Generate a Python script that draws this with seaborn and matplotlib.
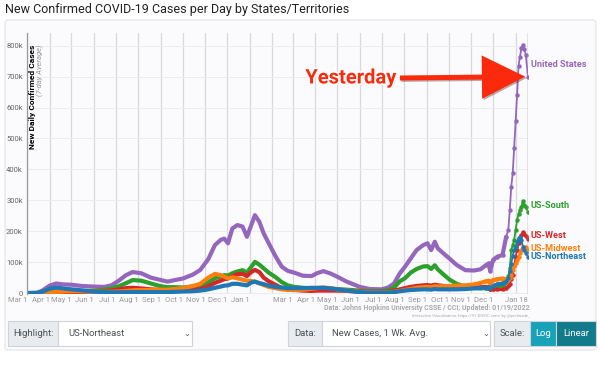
import pandas as pd
import matplotlib.pyplot as plt
import matplotlib.patheffects as pe
from matplotlib.patches import FancyBboxPatch, Rectangle
from matplotlib.ticker import FuncFormatter
import seaborn as sns

# Daten (7-Tage-Mittel, in Tausend Fällen pro Tag)
dates = ['2020-03-01', '2020-03-15', '2020-03-22', '2020-04-01', '2020-04-10', '2020-04-20',
         '2020-05-01', '2020-05-15', '2020-06-01', '2020-06-15', '2020-06-25', '2020-07-05',
         '2020-07-15', '2020-07-24', '2020-08-05', '2020-08-18', '2020-09-01', '2020-09-10',
         '2020-09-20', '2020-10-01', '2020-10-15', '2020-10-25', '2020-11-05', '2020-11-14',
         '2020-11-22', '2020-11-27', '2020-12-02', '2020-12-08', '2020-12-15', '2020-12-22',
         '2020-12-28', '2021-01-03', '2021-01-08', '2021-01-14', '2021-01-20', '2021-01-27',
         '2021-02-05', '2021-02-14', '2021-02-22', '2021-03-03', '2021-03-15', '2021-03-27',
         '2021-04-03', '2021-04-12', '2021-04-22', '2021-05-01', '2021-05-14', '2021-06-01',
         '2021-06-15', '2021-07-01', '2021-07-10', '2021-07-18', '2021-07-26', '2021-08-02',
         '2021-08-10', '2021-08-18', '2021-08-27', '2021-09-02', '2021-09-07', '2021-09-12',
         '2021-09-16', '2021-09-24', '2021-10-02', '2021-10-12', '2021-10-24', '2021-11-05',
         '2021-11-14', '2021-11-21', '2021-11-25', '2021-11-27', '2021-12-01', '2021-12-07',
         '2021-12-14', '2021-12-19', '2021-12-22', '2021-12-24', '2021-12-26', '2021-12-28',
         '2021-12-30', '2022-01-01', '2022-01-03', '2022-01-05', '2022-01-07', '2022-01-09',
         '2022-01-11', '2022-01-13', '2022-01-15', '2022-01-18']

us = [0, 1, 8, 24, 31, 28, 27, 23, 21, 20, 25, 40, 58, 68, 64, 50, 42, 37, 42, 47, 60, 75,
      110, 155, 172, 176, 161, 209, 220, 215, 182, 220, 252, 231, 193, 161, 120, 85, 72, 66,
      56, 55, 64, 71, 63, 53, 37, 20, 13, 12, 18, 31, 64, 85, 112, 139, 155, 161, 139, 166,
      145, 128, 112, 91, 74, 73, 77, 90, 96, 72, 107, 118, 123, 182, 204, 269, 344, 387, 470,
      555, 640, 735, 765, 792, 803, 790, 770, 700]
south = [0, 0, 1.5, 4, 5, 5, 5, 6, 8, 11, 15, 22, 32, 42, 40, 31, 22, 19, 19, 18, 21, 24,
         35, 48, 54, 58, 57, 64, 70, 74, 66, 85, 101, 92, 80, 66, 52, 35, 25, 20, 17, 15, 15,
         15, 14, 13, 11, 8, 6, 6, 10, 18, 38, 48, 66, 78, 86, 87, 78, 90, 77, 60, 44, 30, 21,
         17, 15, 16, 16, 12, 17, 18, 20, 35, 55, 80, 139, 155, 172, 204, 236, 255, 269, 279,
         299, 285, 279, 262]
west = [0, 0, 1.5, 3, 3.5, 3.5, 3.5, 4, 5, 6, 8, 12, 16, 17, 15, 12, 10, 8, 8, 9, 11, 13,
        22, 33, 40, 45, 47, 55, 61, 62, 55, 68, 75, 68, 50, 38, 27, 16, 12, 10, 8, 7, 8, 8,
        8, 8, 7, 5, 4, 4, 5, 8, 12, 16, 20, 23, 25, 26, 24, 27, 25, 23, 21, 19, 18, 18, 19,
        20, 19, 12, 12, 13, 13, 16, 22, 30, 45, 60, 90, 118, 140, 161, 175, 188, 198, 190,
        185, 176]
midwest = [0, 0, 1, 3, 4, 5, 6, 6, 5, 4, 4, 5, 7, 9, 10, 10, 11, 11, 13, 16, 23, 30, 50,
           62, 58, 53, 48, 51, 48, 43, 40, 39, 37, 32, 26, 20, 16, 12, 10, 10, 11, 14, 16,
           18, 16, 12, 8, 4, 3, 2, 3, 4, 7, 10, 13, 17, 19, 20, 19, 22, 21, 22, 23, 24, 25,
           28, 33, 38, 40, 32, 42, 45, 47, 45, 42, 48, 60, 75, 88, 96, 108, 118, 128, 139,
           145, 150, 148, 140]
northeast = [0, 0.5, 4, 14, 18, 15, 12, 9, 5, 3, 2.5, 2.5, 3, 3, 3, 3, 3, 3, 4, 5, 6, 8,
             12, 17, 21, 24, 25, 30, 30, 27, 25, 34, 37, 32, 29, 24, 20, 18, 16, 16, 16, 17,
             17, 17, 15, 12, 8, 3, 1.5, 1.5, 2, 3, 6, 8, 10, 11, 12, 12, 11, 13, 12, 12, 12,
             12, 13, 15, 16, 18, 19, 16, 23, 28, 31, 40, 50, 70, 95, 120, 140, 150, 165, 177,
             182, 172, 150, 140, 130, 118]

regionen = ['United States', 'US-South', 'US-West', 'US-Midwest', 'US-Northeast']
farben = ['#9467bd', '#2ca02c', '#d62728', '#ff7f0e', '#1f77b4']
label_y = [738, 282, 185, 143, 117]

tick_dates = ['2020-03-01', '2020-04-01', '2020-05-01', '2020-06-01', '2020-07-01', '2020-08-01',
              '2020-09-01', '2020-10-01', '2020-11-01', '2020-12-01', '2021-01-01', '2021-02-01',
              '2021-03-01', '2021-04-01', '2021-05-01', '2021-06-01', '2021-07-01', '2021-08-01',
              '2021-09-01', '2021-10-01', '2021-11-01', '2021-12-01', '2022-01-01', '2022-01-18']
tick_labels = ['Mar 1', 'Apr 1', 'May 1', 'Jun 1', 'Jul 1', 'Aug 1', 'Sep 1', 'Oct 1', 'Nov 1',
               'Dec 1', 'Jan 1', '', 'Mar 1', 'Apr 1', 'May 1', 'Jun 1', 'Jul 1', 'Aug 1',
               'Sep 1', 'Oct 1', 'Nov 1', 'Dec 1', '', 'Jan 18']

# DataFrame im Long-Format
df = pd.DataFrame({'date': pd.to_datetime(dates), 'United States': us, 'US-South': south,
                   'US-West': west, 'US-Midwest': midwest, 'US-Northeast': northeast})
df = df.melt(id_vars='date', var_name='region', value_name='cases')
df['cases'] = df['cases'] * 1000

sns.set_style('white')
plt.rcParams['font.family'] = ['Roboto', 'DejaVu Sans']

fig = plt.figure(figsize=(6, 3.84), dpi=100)
fig.patch.set_facecolor('white')

# Panel-Rahmen (hinter den Achsen)
panel = FancyBboxPatch((5, 34), 591, 330, boxstyle='round,pad=0,rounding_size=3',
                       transform=None, facecolor='#fbfbfd', edgecolor='#e3e3e8', lw=0.8,
                       zorder=-10)
fig.patches.append(panel)

ax = fig.add_axes([27 / 600, 90 / 384, 501 / 600, 261 / 384])
ax.set_facecolor('none')

# dicke Linien für den Verlauf, dünne mit Punkten für die letzten Wochen
alt = df[df['date'] <= '2021-12-20']
neu = df[df['date'] >= '2021-11-20']
sns.lineplot(data=alt, x='date', y='cases', hue='region', hue_order=regionen, palette=farben,
             lw=3, legend=False, ax=ax, solid_joinstyle='round', solid_capstyle='round')
sns.lineplot(data=neu, x='date', y='cases', hue='region', hue_order=regionen, palette=farben,
             lw=1.3, marker='o', markersize=3.2, markeredgewidth=0, legend=False, ax=ax)

start = pd.Timestamp(tick_dates[0])
ende = pd.Timestamp(tick_dates[-1])
ax.set_xlim(start, ende)
ax.set_ylim(-3000, 841000)

ax.set_xticks(pd.to_datetime(tick_dates))
ax.set_xticklabels(tick_labels, ha='right', fontsize=5.5, color='#999999')
ax.set_yticks(range(0, 800001, 100000))
ax.yaxis.set_major_formatter(FuncFormatter(lambda v, p: '0' if v == 0 else f'{int(v / 1000)}k'))
ax.tick_params(axis='y', labelsize=5.5, labelcolor='#666666', length=2, color='#999999', pad=1)
ax.tick_params(axis='x', length=0, pad=2)
ax.grid(axis='x', color='#d8d8de', lw=0.9)
ax.grid(axis='y', color='#ececf0', lw=0.7)
ax.set_axisbelow(True)
ax.axvline(ende, color='#999999', lw=1)
for s in ['top', 'right', 'bottom']:
    ax.spines[s].set_visible(False)
ax.spines['left'].set_color('#999999')
ax.spines['left'].set_linewidth(0.9)
ax.set_xlabel('')
ax.set_ylabel('')

ax.text(0.011, 0.955, 'New Daily Confirmed Cases', transform=ax.transAxes, rotation=90,
        ha='center', va='top', fontsize=6, fontweight='bold', color='black')
ax.text(0.026, 0.955, '(7-day Average)', transform=ax.transAxes, rotation=90,
        ha='center', va='top', fontsize=5.5, color='#999999', style='italic')

# Beschriftungen am Ende der Linien
for name, farbe, ly in zip(regionen, farben, label_y):
    ax.text(ende + pd.Timedelta(days=4), ly * 1000, name, color=farbe, fontsize=6.6,
            fontweight='bold', va='center', ha='left', clip_on=False)

# Pfeil "Yesterday"
ax.annotate('', xy=(ende, us[-1] * 1000), xytext=(400, 306), textcoords='figure pixels',
            arrowprops=dict(arrowstyle='simple,head_length=2.6,head_width=2.6,tail_width=0.3',
                            mutation_scale=12, color='#fc2a0d', lw=0, shrinkA=0, shrinkB=2,
                            path_effects=[pe.SimplePatchShadow(offset=(1, -1), alpha=0.35), pe.Normal()]))
fig.text(351 / 600, 1 - 78 / 384, 'Yesterday', ha='center', va='center', fontsize=14.5,
         fontweight='bold', color='#fc2a0d',
         path_effects=[pe.withSimplePatchShadow(offset=(1, -1), shadow_rgbFace='#999999', alpha=0.5),
                       pe.withStroke(linewidth=2.5, foreground='white')])

# Titel und Quelle
fig.text(5 / 600, 1 - 10 / 384, 'New Confirmed COVID-19 Cases per Day by States/Territories',
         ha='left', va='center', fontsize=9, color='#222222')
fig.text(530 / 600, 1 - 308 / 384, 'Data: Johns Hopkins University CSSE / CCI; Updated: 01/19/2022',
         ha='right', va='center', fontsize=5, fontweight='bold', color='#aaaaaa')
fig.text(530 / 600, 1 - 315.5 / 384, 'Interactive Visualization: https://91-DIVOC.com/ by @profwade_',
         ha='right', va='center', fontsize=3, color='#aaaaaa')


# Bedienelemente unten
def feld(x0, x1, farbe, text, textfarbe='#495057', ha='center'):
    r = Rectangle((x0, 384 - 346), x1 - x0, 25, transform=None, facecolor=farbe,
                  edgecolor='#ced4da', lw=0.8)
    fig.patches.append(r)
    if ha == 'center':
        fig.text((x0 + x1) / 2 / 600, 1 - 333.5 / 384, text, ha='center', va='center',
                 fontsize=6.8, color=textfarbe)
    else:
        fig.text((x0 + 10) / 600, 1 - 333.5 / 384, text, ha='left', va='center',
                 fontsize=6.8, color=textfarbe)


feld(8, 58, '#e9ecef', 'Highlight:')
feld(58, 192, 'white', 'US-Northeast', ha='left')
feld(288, 322, '#e9ecef', 'Data:')
feld(322, 490, 'white', 'New Cases, 1 Wk. Avg.', ha='left')
feld(494, 530, '#e9ecef', 'Scale:')
feld(530, 556, '#17a2b8', 'Log', textfarbe='white')
feld(556, 596, '#117a8b', 'Linear', textfarbe='white')
for xc in [187, 486]:
    fig.text(xc / 600, 1 - 333 / 384, '⌄', ha='center', va='center', fontsize=6,
             color='#555555', family=['DejaVu Sans'])

fig.savefig('out.png', dpi=100)
